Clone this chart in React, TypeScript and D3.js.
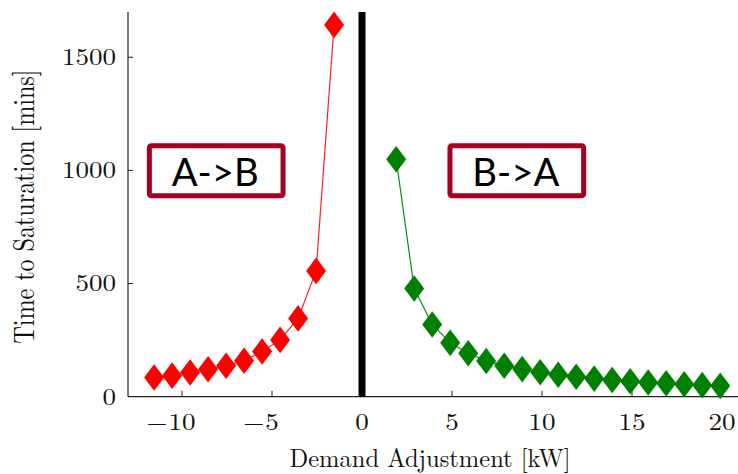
import React from "react";
import * as d3 from "d3";

// ---- data ----
const redX = [-11.55, -10.55, -9.55, -8.55, -7.55, -6.55, -5.55, -4.55, -3.55, -2.55, -1.55];
const redY = [85, 93, 107, 121, 137, 159, 200, 251, 346, 556, 1643];
const greenX = [1.9, 2.9, 3.9, 4.9, 5.9, 6.9, 7.9, 8.9, 9.9, 10.9, 11.9, 12.9, 13.9, 14.9, 15.9, 16.9, 17.9, 18.9, 19.9];
const greenY = [1049, 478, 319, 238, 192, 158, 137, 122, 108, 97, 88, 80, 74, 68, 63, 59, 55, 51, 48];
const xTicks = [-10, -5, 0, 5, 10, 15, 20];
const yTicks = [0, 500, 1000, 1500];
const xLabel = "Demand Adjustment [kW]";
const yLabel = "Time to Saturation [mins]";
const boxLabels = ["A->B", "B->A"];
const boxCenters = [-8.1, 8.6];

const W = 738;
const H = 474;
const SERIF = "'Latin Modern Roman', 'CMU Serif', 'Liberation Serif', 'DejaVu Serif', serif";
const SANS = "Lato, 'Open Sans', 'Noto Sans', sans-serif";

export default function App() {
  const x = d3.scaleLinear().domain([-13, 21]).range([128, 740]);
  const y = d3.scaleLinear().domain([0, 1700]).range([396.7, 12]);
  const line = d3
    .line<[number, number]>()
    .x((d) => x(d[0]))
    .y((d) => y(d[1]));
  const red: [number, number][] = redX.map((v, i) => [v, redY[i]]);
  const green: [number, number][] = greenX.map((v, i) => [v, greenY[i]]);
  const hw = 10;
  const hh = 13.3;
  const diamond = (cx: number, cy: number) =>
    `M${cx},${cy - hh}L${cx + hw},${cy}L${cx},${cy + hh}L${cx - hw},${cy}Z`;
  const S = 1.15;
  const fs = 23.5;
  const dw = 0.5 * fs * S;

  return (
    <svg
      width={W}
      height={H}
      style={{ position: "absolute", left: 0, top: 0, background: "#fff" }}
    >
      <rect x={0} y={0} width={W} height={H} fill="#fff" />
      {/* axes */}
      <line x1={x(-13)} x2={x(-13)} y1={y(1700)} y2={y(0)} stroke="#222" strokeWidth={1.2} />
      <line x1={x(-13)} x2={W} y1={y(0)} y2={y(0)} stroke="#222" strokeWidth={1.2} />
      {yTicks.map((t) => (
        <g key={"yt" + t}>
          {t !== 0 && (
            <line x1={x(-13)} x2={x(-13) + 5} y1={y(t)} y2={y(t)} stroke="#222" strokeWidth={1} />
          )}
          <text
            transform={`translate(116,${y(t) + 7.8}) scale(${S},1)`}
            textAnchor="end"
            fontFamily={SERIF}
            fontSize={fs}
            fill="#111"
          >
            {t}
          </text>
        </g>
      ))}
      {xTicks.map((t) => {
        const s = String(Math.abs(t));
        const half = (s.length * dw) / 2;
        return (
          <g key={"xt" + t}>
            {t !== 0 && (
              <line x1={x(t)} x2={x(t)} y1={y(0)} y2={y(0) - 6} stroke="#222" strokeWidth={1} />
            )}
            <text
              transform={`translate(${x(t)},430) scale(${S},1)`}
              textAnchor="middle"
              fontFamily={SERIF}
              fontSize={fs}
              fill="#111"
            >
              {s}
            </text>
            {t < 0 && (
              <text
                transform={`translate(${x(t) - half - 1},430) scale(${S},1)`}
                textAnchor="end"
                fontFamily={SERIF}
                fontSize={fs}
                fill="#111"
              >
                {"\u2212"}
              </text>
            )}
          </g>
        );
      })}
      {/* axis labels */}
      <text
        x={430}
        y={467}
        textAnchor="middle"
        fontFamily={SERIF}
        fontSize={26}
        textLength={281}
        lengthAdjust="spacingAndGlyphs"
        fill="#111"
      >
        {xLabel}
      </text>
      <text
        transform={`translate(34,206.5) scale(1.15,1) rotate(-90)`}
        textAnchor="middle"
        fontFamily={SERIF}
        fontSize={26}
        textLength={274}
        lengthAdjust="spacingAndGlyphs"
        fill="#111"
      >
        {yLabel}
      </text>
      {/* black separator at x=0 */}
      <line x1={x(0)} x2={x(0)} y1={y(1700)} y2={y(0)} stroke="#000" strokeWidth={7} />
      {/* series */}
      <path d={line(red) || ""} fill="none" stroke="#ff2020" strokeWidth={1.2} />
      <path d={line(green) || ""} fill="none" stroke="#108a10" strokeWidth={1.2} />
      {red.map((d, i) => (
        <path key={"r" + i} d={diamond(x(d[0]), y(d[1]))} fill="#ff0000" />
      ))}
      {green.map((d, i) => (
        <path key={"g" + i} d={diamond(x(d[0]), y(d[1]))} fill="#008000" />
      ))}
      {/* labelled boxes */}
      {boxLabels.map((lab, i) => {
        const cx = x(boxCenters[i]);
        const bw = 133.7;
        const bh = 50;
        return (
          <g key={"box" + i}>
            <rect
              x={cx - bw / 2}
              y={145.8}
              width={bw}
              height={bh}
              rx={2}
              fill="#fff"
              stroke="#a50021"
              strokeWidth={5}
            />
            <text
              x={cx - 1}
              y={185.5}
              textAnchor="middle"
              fontFamily={SANS}
              fontSize={38}
              textLength={87}
              lengthAdjust="spacingAndGlyphs"
              fill="#000"
            >
              {lab}
            </text>
          </g>
        );
      })}
    </svg>
  );
}
